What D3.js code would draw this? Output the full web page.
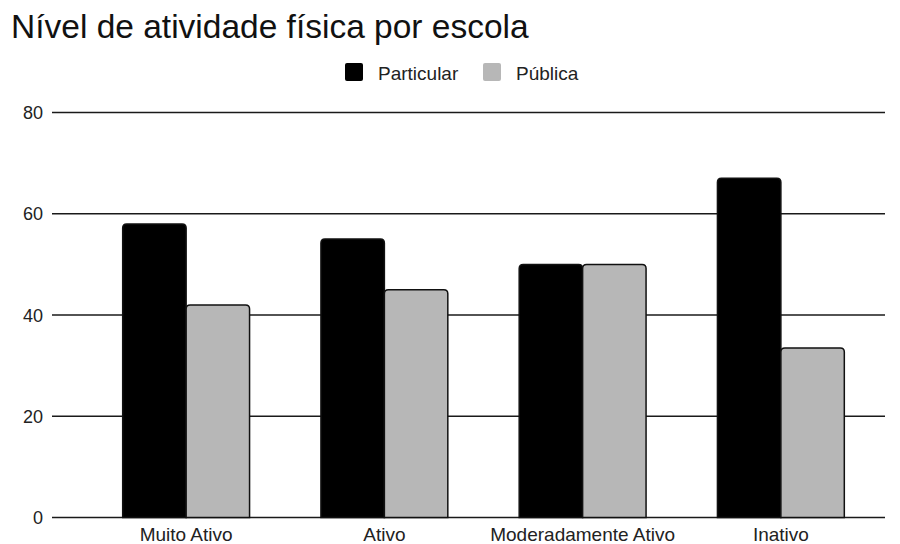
<!DOCTYPE html>
<html>
<head>
<meta charset="utf-8">
<script src="https://cdn.jsdelivr.net/npm/d3@7"></script>
<style>
  html, body { margin: 0; padding: 0; background: #fff; }
  svg { display: block; font-family: "Liberation Sans", Arial, sans-serif; }
</style>
</head>
<body>
<svg id="chart" width="900" height="544"></svg>
<script>
// Activity levels and the share of students in each school type
const categories = ["Muito Ativo", "Ativo", "Moderadamente Ativo", "Inativo"];
const seriesNames = ["Particular", "Pública"];
const particular = [58, 55, 50, 67];
const publica = [42, 45, 50, 33.5];
const yTicks = [0, 20, 40, 60, 80];
const colors = ["#000000", "#b7b7b7"];

const svg = d3.select("#chart");

const gridLeft = 52, gridRight = 885;
const y = d3.scaleLinear().domain([0, 80]).range([517.5, 112.5]);
const x = d3.scaleBand().domain(categories).range([87, 880])
  .paddingInner(0.36).paddingOuter(0.18);
const xSub = d3.scaleBand().domain(seriesNames).range([0, x.bandwidth()]).padding(0);

// Title
svg.append("text")
  .attr("x", 11).attr("y", 38)
  .attr("font-size", 33.5)
  .attr("fill", "#111")
  .text("Nível de atividade física por escola");

// Legend
const legend = svg.append("g");
const legendItems = [
  { name: seriesNames[0], color: colors[0], x: 345 },
  { name: seriesNames[1], color: colors[1], x: 483 }
];
legendItems.forEach(d => {
  legend.append("rect")
    .attr("x", d.x).attr("y", 63).attr("width", 18).attr("height", 18)
    .attr("rx", 2).attr("fill", d.color);
  legend.append("text")
    .attr("x", d.x + 33).attr("y", 80)
    .attr("font-size", 19).attr("fill", "#222")
    .text(d.name);
});

// Gridlines and y tick labels
const grid = svg.append("g");
yTicks.forEach(t => {
  grid.append("line")
    .attr("x1", gridLeft).attr("x2", gridRight)
    .attr("y1", y(t)).attr("y2", y(t))
    .attr("stroke", "#1a1a1a").attr("stroke-width", 1.4);
  grid.append("text")
    .attr("x", 43).attr("y", y(t) + 6.5)
    .attr("text-anchor", "end")
    .attr("font-size", 18).attr("fill", "#222")
    .text(t);
});

// Bars with rounded top corners
function barPath(x0, w, yTop, yBase, r) {
  r = Math.min(r, w / 2, (yBase - yTop) / 2);
  return `M${x0},${yBase}V${yTop + r}Q${x0},${yTop} ${x0 + r},${yTop}` +
    `H${x0 + w - r}Q${x0 + w},${yTop} ${x0 + w},${yTop + r}V${yBase}Z`;
}

const rows = categories.map((c, i) => ({
  cat: c,
  values: [
    { key: seriesNames[0], value: particular[i], color: colors[0] },
    { key: seriesNames[1], value: publica[i], color: colors[1] }
  ]
}));

const groups = svg.append("g").selectAll("g").data(rows).join("g")
  .attr("transform", d => `translate(${x(d.cat)},0)`);

groups.selectAll("path").data(d => d.values).join("path")
  .attr("d", d => barPath(xSub(d.key), xSub.bandwidth(), y(d.value), y(0), 4))
  .attr("fill", d => d.color)
  .attr("stroke", "#111")
  .attr("stroke-width", 1.5);

// Category labels
const xAxis = d3.axisBottom(x).tickSize(0).tickPadding(10);
const gx = svg.append("g").attr("transform", `translate(0,${y(0)})`).call(xAxis);
gx.select(".domain").remove();
gx.selectAll("text")
  .attr("font-size", 19)
  .attr("font-family", "Liberation Sans, Arial, sans-serif")
  .attr("fill", "#222");
</script>
</body>
</html>
